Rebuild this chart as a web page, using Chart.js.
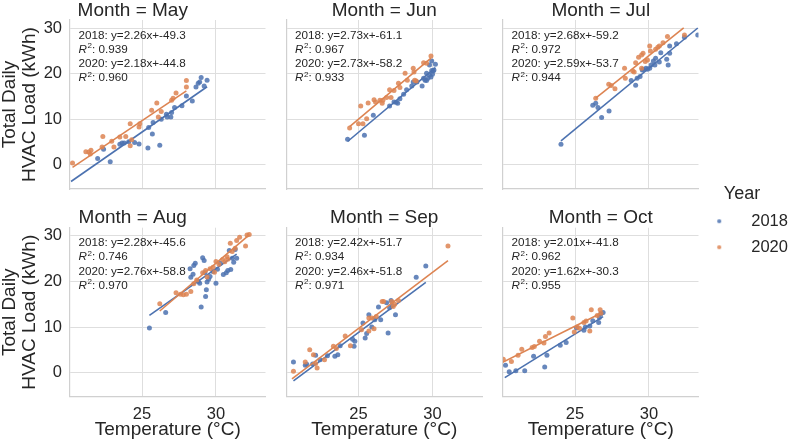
<!DOCTYPE html>
<html>
<head>
<meta charset="utf-8">
<script src="https://cdn.jsdelivr.net/npm/chart.js@4.4.1/dist/chart.umd.min.js"></script>
<style>
  html, body { margin: 0; padding: 0; background: #fff; overflow: hidden; }
  #wrap { position: relative; width: 790px; height: 442px; overflow: hidden; }
  #wrap canvas { position: absolute; top: 0; }
</style>
</head>
<body>
<div id="wrap"></div>
<script>
const MONTHS = ["May", "Jun", "Jul", "Aug", "Sep", "Oct"];
const YEARS = ["2018", "2020"];
const X_TICKS = [25, 30];
const Y_TICKS = [0, 10, 20, 30];
const X_RANGE = [20.13, 33.35];
const Y_RANGE = [-5.3, 31.8];

// [temperature, load]
const MAY_2018 = [[22.0,1.4],[22.4,3.4],[22.85,0.7],[23.5,4.5],[23.65,4.8],[23.8,4.8],[24.1,5.1],[24.5,4.9],[24.8,4.6],[25.4,3.7],[25.45,8.2],[25.7,6.8],[25.75,9.3],[26.2,4.3],[26.3,10.0],[26.65,11.1],[26.7,10.5],[26.95,10.5],[27.0,11.5],[27.2,12.6],[27.7,13.0],[28.0,15.1],[28.4,14.0],[28.65,17.1],[28.8,17.9],[28.9,18.2],[29.0,19.2],[29.2,17.3],[29.4,18.6]];
const MAY_2020 = [[20.3,0.4],[21.2,2.9],[21.4,2.8],[21.5,2.4],[21.55,3.2],[22.3,3.9],[22.35,6.25],[22.95,5.2],[23.1,3.9],[23.5,6.1],[23.9,6.25],[24.2,9.0],[24.2,4.2],[24.3,5.5],[24.8,8.3],[24.85,9.0],[25.65,12.0],[26.0,13.6],[26.1,10.5],[26.3,11.7],[27.0,14.2],[27.1,14.6],[27.3,15.8],[28.0,18.5],[28.0,17.1]];
const JUN_2018 = [[24.26,5.6],[25.4,6.5],[26.0,10.9],[27.1,12.9],[27.4,13.8],[27.55,13.75],[27.65,13.5],[27.8,14.5],[28.05,15.5],[28.25,16.5],[28.6,17.3],[28.7,18.2],[28.95,18.2],[29.3,17.3],[29.4,19.0],[29.5,18.6],[29.6,20.1],[29.6,18.5],[29.7,19.0],[29.8,19.7],[29.8,21.9],[29.9,19.3],[29.95,20.7],[29.95,22.8],[30.0,19.9],[30.05,20.6],[30.1,20.8],[30.2,22.1]];
const JUN_2020 = [[24.4,8.1],[25.0,9.0],[25.15,12.9],[25.3,9.0],[25.55,10.1],[25.65,13.6],[26.05,14.3],[26.15,13.8],[26.45,14.2],[26.6,13.5],[26.65,14.2],[26.9,14.8],[27.1,16.5],[27.2,14.8],[27.4,16.3],[27.7,17.9],[27.8,17.0],[28.15,20.1],[28.3,18.6],[28.7,21.2],[28.75,20.4],[28.8,18.6],[28.9,18.4],[29.4,22.4],[29.6,22.3],[29.9,23.9]];
const JUL_2018 = [[24.05,4.5],[26.2,13.1],[26.4,13.5],[26.55,12.6],[26.8,10.4],[27.3,11.8],[28.8,18.5],[29.1,17.5],[29.2,19.0],[29.4,19.4],[29.55,20.8],[29.6,21.0],[29.8,21.2],[29.9,21.0],[30.05,21.2],[30.15,21.9],[30.3,22.8],[30.4,21.9],[30.45,23.4],[30.7,22.6],[30.8,24.6],[31.2,23.2],[31.3,21.9],[31.4,24.5],[31.4,26.1],[31.86,26.6],[32.4,28.0],[33.3,28.5]];
const JUL_2020 = [[26.4,14.6],[27.28,17.7],[27.45,17.4],[27.7,16.7],[28.35,21.2],[28.4,19.0],[28.9,20.6],[29.0,20.4],[29.1,22.4],[29.3,23.6],[29.5,24.1],[29.6,24.5],[29.5,21.2],[29.75,22.7],[29.9,23.0],[30.05,26.1],[30.1,25.0],[30.45,25.4],[30.6,25.8],[30.7,26.1],[30.95,26.8],[31.25,28.2],[32.4,28.5]];
const AUG_2018 = [[25.5,9.8],[26.6,13.2],[28.25,22.8],[28.3,20.9],[28.45,21.6],[28.5,23.5],[28.6,24.0],[28.8,20.0],[28.9,19.6],[29.0,14.4],[29.1,25.2],[29.2,24.6],[29.25,21.9],[29.3,16.7],[29.35,18.2],[29.4,19.9],[29.5,20.5],[29.6,21.1],[29.8,22.2],[30.0,19.6],[30.1,22.7],[30.3,24.0],[30.5,21.5],[30.7,21.9],[30.8,22.4],[30.9,26.8],[31.0,22.6],[31.1,25.1],[31.2,24.2],[31.3,27.0],[31.4,25.1]];
const AUG_2020 = [[26.2,15.1],[27.3,17.5],[27.6,17.2],[27.8,17.1],[28.0,17.2],[28.3,17.8],[28.5,19.5],[28.7,20.3],[29.1,21.9],[29.3,22.4],[29.4,21.0],[29.6,22.8],[29.8,23.1],[29.9,22.0],[30.0,24.4],[30.2,23.8],[30.45,24.8],[30.6,24.3],[30.75,25.4],[30.8,24.9],[30.97,28.4],[31.1,26.6],[31.3,27.3],[31.4,29.0],[31.6,29.7],[32.0,27.8],[32.1,30.2],[32.25,30.3]];
const SEP_2018 = [[20.6,2.3],[21.4,1.6],[21.5,1.8],[21.9,1.9],[22.1,3.8],[22.4,2.8],[22.9,3.7],[23.4,3.6],[23.6,3.9],[23.76,5.9],[24.6,7.3],[24.7,5.8],[24.75,6.9],[25.3,10.9],[25.45,7.6],[25.55,8.6],[25.7,12.7],[25.9,10.0],[26.1,11.6],[26.35,14.4],[26.5,11.6],[26.9,15.3],[27.0,8.7],[27.1,14.2],[27.2,15.8],[27.25,14.8],[27.5,12.7],[28.9,20.9],[29.55,23.4]];
const SEP_2020 = [[20.6,0.3],[21.4,2.3],[21.7,5.0],[21.95,3.9],[22.1,2.0],[22.2,1.0],[22.7,2.8],[23.3,5.8],[23.5,5.3],[24.1,8.0],[24.45,5.9],[25.2,9.4],[25.7,12.0],[25.7,9.1],[25.9,12.0],[26.05,9.6],[26.2,12.3],[26.6,15.6],[26.7,15.6],[27.25,15.6],[27.35,14.5],[27.45,15.0],[27.7,15.8],[31.05,27.8]];
const OCT_2018 = [[20.3,1.6],[20.55,0.2],[21.0,0.4],[21.6,0.4],[22.2,3.6],[22.95,1.2],[23.1,3.8],[24.0,6.0],[24.4,6.6],[25.1,9.8],[25.6,9.3],[25.7,10.0],[26.0,10.2],[26.2,11.4],[26.6,11.0],[26.65,12.1],[26.75,12.9],[26.9,13.2]];
const OCT_2020 = [[20.15,2.9],[20.7,2.4],[21.15,3.8],[21.4,5.1],[22.1,5.5],[22.25,5.7],[22.6,6.9],[22.9,6.5],[23.0,7.9],[23.25,8.7],[24.85,12.0],[24.95,8.9],[25.15,10.0],[25.3,9.7],[25.6,11.0],[25.75,11.3],[26.0,9.1],[26.1,13.8],[26.5,12.5],[26.7,13.8],[26.75,13.0]];

// fit lines as printed in each panel, drawn over each series' x span
const SLOPE_2018 = [2.26, 2.73, 2.68, 2.28, 2.42, 2.01];
const INTERCEPT_2018 = [-49.3, -61.1, -59.2, -45.6, -51.7, -41.8];
const R2_2018 = ["0.939", "0.967", "0.972", "0.746", "0.934", "0.962"];
const SLOPE_2020 = [2.18, 2.73, 2.59, 2.76, 2.46, 1.62];
const INTERCEPT_2020 = [-44.8, -58.2, -53.7, -58.8, -51.8, -30.3];
const R2_2020 = ["0.960", "0.933", "0.944", "0.970", "0.971", "0.955"];
const FIT_X_2018 = [[20.2, 29.4], [24.26, 30.2], [24.05, 33.3], [25.5, 31.4], [20.6, 29.55], [20.25, 26.9]];
const FIT_X_2020 = [[20.3, 28.0], [24.4, 29.9], [26.4, 32.35], [26.2, 32.25], [20.5, 31.05], [20.1, 26.75]];

const SERIES_2018 = [MAY_2018, JUN_2018, JUL_2018, AUG_2018, SEP_2018, OCT_2018];
const SERIES_2020 = [MAY_2020, JUN_2020, JUL_2020, AUG_2020, SEP_2020, OCT_2020];

const FONT = "'Liberation Sans', Arial, sans-serif";
const TEXT = "#262626";
const GRID = "#dedede";
const SPINE = "#d0d0d0";
const COLORS = ["#4c72b0", "#dd8452"];
const POINT_FILL = ["rgba(76, 114, 176, 0.85)", "rgba(221, 132, 82, 0.85)"];

const W = 790;
const H = 442;
const COL_LEFT = [70, 286.5, 503];
const ROW_TOP = [20, 227.7];
const PANEL_W = 195.5;
const PANEL_H = 169;
const TITLE_H = 20;

Chart.defaults.font.family = FONT;
Chart.defaults.color = TEXT;

const wrap = document.getElementById("wrap");

function addCanvas(left, width) {
  const c = document.createElement("canvas");
  c.width = width;
  c.height = H;
  c.style.left = left + "px";
  c.style.width = width + "px";
  c.style.height = H + "px";
  wrap.appendChild(c);
  return c;
}

const toXY = (pts) => pts.map(([x, y]) => ({ x, y }));
const fitLine = (m, b, xs) => xs.map((x) => ({ x, y: m * x + b }));

function fitNote(idx) {
  return {
    id: "fitNote",
    afterDatasetsDraw(chart) {
      const { ctx, chartArea } = chart;
      const x0 = chartArea.left + 8.5;
      const rows = [
        [YEARS[0], SLOPE_2018[idx], INTERCEPT_2018[idx], R2_2018[idx]],
        [YEARS[1], SLOPE_2020[idx], INTERCEPT_2020[idx], R2_2020[idx]],
      ];
      ctx.save();
      ctx.fillStyle = TEXT;
      ctx.textBaseline = "alphabetic";
      ctx.textAlign = "left";
      rows.forEach(([yr, m, b, r2], k) => {
        const y1 = chartArea.top + 18.5 + k * 28.4;
        const y2 = y1 + 14.2;
        ctx.font = `11.7px ${FONT}`;
        ctx.fillText(`${yr}: y=${m.toFixed(2)}x+${b.toFixed(1)}`, x0, y1);
        ctx.font = `italic 11.7px ${FONT}`;
        ctx.fillText("R", x0, y2);
        let x = x0 + ctx.measureText("R").width + 0.6;
        ctx.font = `8px ${FONT}`;
        ctx.fillText("2", x, y2 - 4.6);
        x += ctx.measureText("2").width;
        ctx.font = `11.7px ${FONT}`;
        ctx.fillText(`: ${r2}`, x, y2);
      });
      ctx.restore();
    },
  };
}

function panel(idx) {
  const col = idx % 3;
  const row = Math.floor(idx / 3);
  const yw = col === 0 ? COL_LEFT[0] : 0;
  const xh = row === 1 ? H - (ROW_TOP[1] + PANEL_H) : 0;
  const padding = {
    left: COL_LEFT[col] - yw,
    right: W - (COL_LEFT[col] + PANEL_W),
    top: ROW_TOP[row] - TITLE_H,
    bottom: H - (ROW_TOP[row] + PANEL_H) - xh,
  };

  const datasets = [
    { data: fitLine(SLOPE_2020[idx], INTERCEPT_2020[idx], FIT_X_2020[idx]), showLine: true, pointRadius: 0, borderColor: COLORS[1], borderWidth: 1.6, order: 0 },
    { data: toXY(SERIES_2020[idx]), pointRadius: 2.5, pointBorderWidth: 0, backgroundColor: POINT_FILL[1], order: 1 },
    { data: fitLine(SLOPE_2018[idx], INTERCEPT_2018[idx], FIT_X_2018[idx]), showLine: true, pointRadius: 0, borderColor: COLORS[0], borderWidth: 1.6, order: 2 },
    { data: toXY(SERIES_2018[idx]), pointRadius: 2.5, pointBorderWidth: 0, backgroundColor: POINT_FILL[0], order: 3 },
  ];

  new Chart(addCanvas(0, W), {
    type: "scatter",
    data: { datasets },
    options: {
      responsive: false,
      animation: false,
      devicePixelRatio: 1,
      events: [],
      layout: { padding },
      scales: {
        x: {
          type: "linear",
          min: X_RANGE[0],
          max: X_RANGE[1],
          afterBuildTicks: (s) => { s.ticks = X_TICKS.map((value) => ({ value })); },
          afterFit: (s) => { s.height = xh; },
          grid: { color: GRID, lineWidth: 1, drawTicks: false },
          border: { color: SPINE, width: 1.2 },
          ticks: { display: row === 1, padding: 8, font: { size: 16.5 }, color: TEXT },
          title: { display: row === 1, text: "Temperature (°C)", font: { size: 19 }, padding: { top: 0, bottom: 1 }, color: TEXT },
        },
        y: {
          type: "linear",
          min: Y_RANGE[0],
          max: Y_RANGE[1],
          afterBuildTicks: (s) => { s.ticks = Y_TICKS.map((value) => ({ value })); },
          afterFit: (s) => { s.width = yw; },
          grid: { color: GRID, lineWidth: 1, drawTicks: false },
          border: { color: SPINE, width: 1.2 },
          ticks: { display: col === 0, padding: 8, font: { size: 16.5 }, color: TEXT },
          title: {
            display: col === 0,
            text: ["Total Daily", "HVAC Load (kWh)"],
            font: { size: 19, lineHeight: 1.05 },
            padding: { top: 0, bottom: 0 },
            color: TEXT,
          },
        },
      },
      plugins: {
        legend: { display: false },
        tooltip: { enabled: false },
        title: {
          display: true,
          text: `Month = ${MONTHS[idx]}`,
          font: { size: 19, weight: "normal", lineHeight: 1 },
          padding: { top: 1, bottom: 0 },
          color: TEXT,
        },
      },
    },
    plugins: [fitNote(idx)],
  });
}

function dot(color) {
  const c = document.createElement("canvas");
  c.width = 6;
  c.height = 6;
  const g = c.getContext("2d");
  g.fillStyle = color;
  g.beginPath();
  g.arc(3, 3, 2.1, 0, Math.PI * 2);
  g.fill();
  return c;
}

function yearLegend() {
  new Chart(addCanvas(686, 400), {
    type: "scatter",
    data: {
      datasets: YEARS.map((yr, k) => ({ label: yr, data: [], pointStyle: dot(POINT_FILL[k]), backgroundColor: POINT_FILL[k] })),
    },
    options: {
      responsive: false,
      animation: false,
      devicePixelRatio: 1,
      events: [],
      layout: { padding: { left: 0, top: 184.5, right: 0, bottom: 0 } },
      scales: { x: { display: false }, y: { display: false } },
      plugins: {
        tooltip: { enabled: false },
        legend: {
          position: "left",
          align: "start",
          title: { display: true, text: "Year", font: { size: 18, lineHeight: 1 }, padding: { top: 1, bottom: 0 }, color: TEXT },
          labels: { usePointStyle: true, pointStyleWidth: 47.5, padding: 9.5, font: { size: 16.5 }, color: TEXT },
        },
      },
    },
  });
}

MONTHS.forEach((m, idx) => panel(idx));
yearLegend();
</script>
</body>
</html>
